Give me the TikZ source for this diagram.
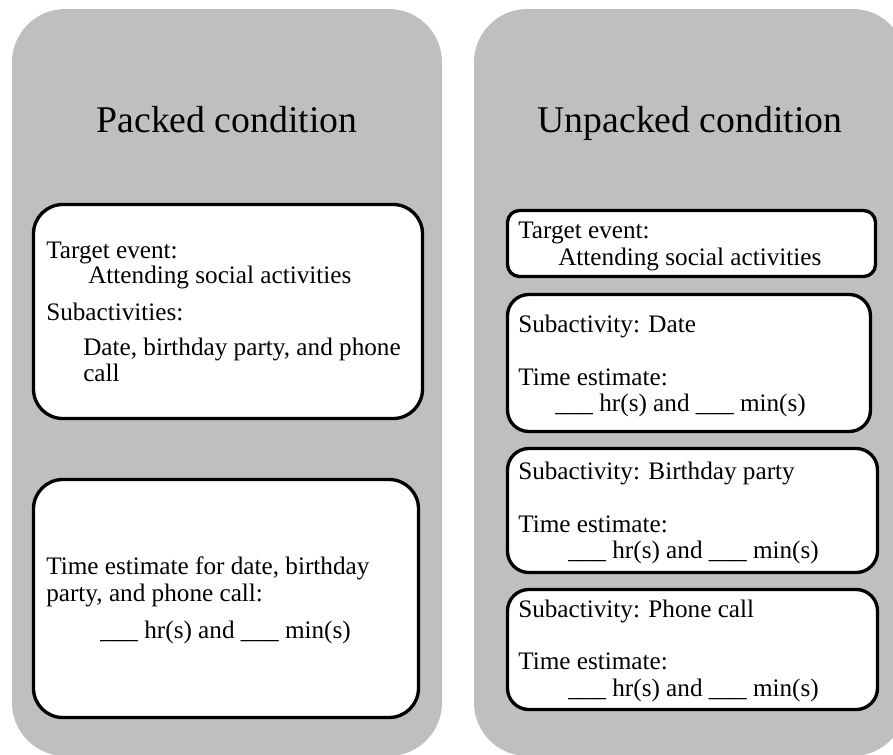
\documentclass[tikz,border=0pt]{standalone}
\usepackage{fontspec}
\setmainfont{Liberation Serif}

\begin{document}
\begin{tikzpicture}[x=0.75pt,y=0.75pt,yscale=-1,xscale=1,
	panel/.style={fill={rgb, 255:red, 191; green, 191; blue, 191 }, draw=none},
	card/.style={draw=black, fill=white, line width=2.5pt},
	title/.style={anchor=base, inner sep=0pt, font=\fontsize{28.3}{30}\selectfont},
	txt/.style={anchor=base west, inner sep=0pt, font=\fontsize{18.9}{19}\selectfont}]
	\clip (0,0) rectangle (893,754);
	
	%Rounded Rect (left panel)
	\draw [panel, rounded corners=40] (12,9) rectangle (442,756);
	%Rounded Rect (right panel)
	\draw [panel, rounded corners=40] (474,9) rectangle (906,756);
	
	%Rounded Rect (packed cards)
	\draw [card, rounded corners=22] (33.5,204.5) rectangle (422.5,418.5);
	\draw [card, rounded corners=22] (33.5,479.5) rectangle (418.5,717.5);
	%Rounded Rect (unpacked cards)
	\draw [card, rounded corners=9] (507.5,210.5) rectangle (875.5,276.5);
	\draw [card, rounded corners=16] (507.5,294.5) rectangle (870.5,431.5);
	\draw [card, rounded corners=16] (507.5,448.5) rectangle (877.5,572.5);
	\draw [card, rounded corners=16] (507.5,589.5) rectangle (877.5,709.5);
	
	% Text Node
	\node [title] (packedTitle) at (227,132) {Packed condition};
	% Text Node
	\node [title] (unpackedTitle) at (690,132) {Unpacked condition};
	
	% Text Node
	\node [txt] (pTarget) at (46,258) {Target event:};
	\node [txt] (pTargetName) at (88,283) {Attending social activities};
	\node [txt] (pSub) at (46,320) {Subactivities:};
	\node [txt] (pSubList) at (83,355) {Date, birthday party, and phone};
	\node [txt] (pSubListB) at (83,381) {call};
	% Text Node
	\node [txt] (pEstimate) at (46,574) {Time estimate for date, birthday};
	\node [txt] (pEstimateB) at (46,601) {party, and phone call:};
	\node [txt] (pBlank) at (100,638) {\_\_\_ hr(s) and \_\_\_ min(s)};
	
	% Text Node
	\node [txt] (uTarget) at (518,238) {Target event:};
	\node [txt] (uTargetName) at (558,265) {Attending social activities};
	% Text Node
	\node [txt] (uDate) at (518,332) {Subactivity: Date};
	\node [txt] (uDateEst) at (518,385) {Time estimate:};
	\node [txt] (uDateBlank) at (555,411) {\_\_\_ hr(s) and \_\_\_ min(s)};
	% Text Node
	\node [txt] (uParty) at (518,479) {Subactivity: Birthday party};
	\node [txt] (uPartyEst) at (518,532) {Time estimate:};
	\node [txt] (uPartyBlank) at (568,558) {\_\_\_ hr(s) and \_\_\_ min(s)};
	% Text Node
	\node [txt] (uPhone) at (518,617) {Subactivity: Phone call};
	\node [txt] (uPhoneEst) at (518,669) {Time estimate:};
	\node [txt] (uPhoneBlank) at (568,696) {\_\_\_ hr(s) and \_\_\_ min(s)};
	
\end{tikzpicture}
\end{document}
